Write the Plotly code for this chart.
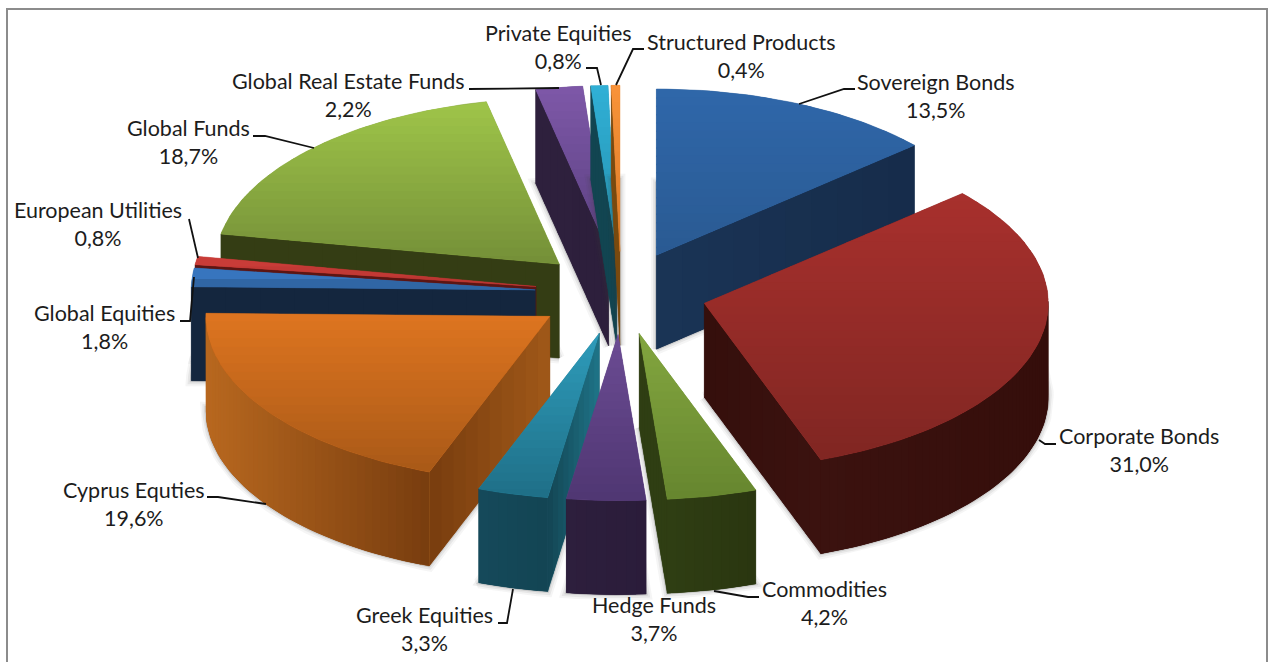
import math
import plotly.graph_objects as go

# ---- data (clockwise from 12 o'clock) ----
categories = ["Sovereign Bonds", "Corporate Bonds", "Commodities", "Hedge Funds", "Greek Equities",
              "Cyprus Equties", "Global Equities", "European Utilities", "Global Funds",
              "Global Real Estate Funds", "Private Equities", "Structured Products"]
values = [13.5, 31.0, 4.2, 3.7, 3.3, 19.6, 1.8, 0.8, 18.7, 2.2, 0.8, 0.4]

# ---- styles, in category order ----
top_light = ["#2f67aa", "#a8302d", "#83a63f", "#6c4c94", "#2e9cbb", "#de7520", "#3b7dcb", "#cc3d39", "#9fc549", "#7e58a8", "#30b0d6", "#f99339"]
top_dark = ["#2a5a92", "#802622", "#66862f", "#4f3672", "#1f6f87", "#a95917", "#2c5e98", "#b83531", "#748f38", "#5a4080", "#2590ad", "#d97a28"]
rim_left = ["#1b3759", "#3b120f", "#2f3e13", "#2d1f3d", "#15495b", "#b8681f", "#14263e", "#5c1513", "#343d14", "#2e203d", "#124551", "#7a4a10"]
rim_right = ["#162c4a", "#350e0b", "#2a3610", "#2b1c3a", "#134553", "#783d0f", "#14263e", "#5c1513", "#343d14", "#2e203d", "#124551", "#7a4a10"]
radial = ["#1a3456", "#350f0c", "#2f3e13", "#2d1f3d", "#1f7488", "#a05818", "#14263e", "#5c1513", "#343d14", "#2d1f3c", "#124551", "#7a4a10"]
draw_order = ["Sovereign Bonds", "Global Real Estate Funds", "Private Equities", "Structured Products",
              "Global Funds", "European Utilities", "Global Equities", "Corporate Bonds", "Cyprus Equties",
              "Commodities", "Greek Equities", "Hedge Funds"]

label_names_y = [82, 436, 589, 605, 615, 490, 313, 210, 128, 81, 33, 42]
label_x = [936, 1139, 824, 654, 424, 134, 104, 98, 188, 348, 558, 741]
leaders = [
    [(855, 89), (844, 89), (799, 104)], [(1056, 444), (1045, 444), (1039, 440)],
    [(759, 597), (748, 597), (714, 591)], [],
    [(498, 623), (507, 623), (513, 589)], [(207, 497), (218, 497), (266, 504)],
    [(180, 321), (190, 321), (194, 277)], [(189, 219), (198, 258)],
    [(253, 136), (265, 136), (314, 148)], [(469, 89), (559, 88)],
    [(586, 68), (597, 68), (601, 85)], [(644, 49), (633, 49), (616, 85)],
]

# ---- projection of the pie ----
CX, CY, RADIUS, TILT, EXPLODE, DEPTH = 621, 293, 344, 0.483, 86, 94


def hex2rgb(c):
    return tuple(int(c[i:i + 2], 16) for i in (1, 3, 5))


def mix(a, b, t):
    t = max(0.0, min(1.0, t))
    return "#%02x%02x%02x" % tuple(round(x + (y - x) * t) for x, y in zip(hex2rgb(a), hex2rgb(b)))


def clip_band(poly, y0, y1):
    def clip(pts, inside, y):
        out = []
        for i, p in enumerate(pts):
            q = pts[(i + 1) % len(pts)]
            if inside(p):
                out.append(p)
            if inside(p) != inside(q):
                t = (y - p[1]) / (q[1] - p[1])
                out.append((p[0] + (q[0] - p[0]) * t, y))
        return out
    res = clip(poly, lambda p: p[1] >= y0, y0)
    if res:
        res = clip(res, lambda p: p[1] <= y1, y1)
    return res


fig = go.Figure()


def closed(poly):
    return [p[0] for p in poly] + [poly[0][0]], [p[1] for p in poly] + [poly[0][1]]


def fill(poly, color, width=0.0):
    xs, ys = closed(poly)
    fig.add_trace(go.Scatter(x=xs, y=ys, mode="lines", fill="toself", fillcolor=color,
                             line=dict(color=color, width=width), hoverinfo="skip", showlegend=False))


def outline(poly, color, width):
    xs, ys = closed(poly)
    fig.add_trace(go.Scatter(x=xs, y=ys, mode="lines", line=dict(color=color, width=width),
                             hoverinfo="skip", showlegend=False))


total = sum(values)
starts = [sum(values[:i]) / total * 360 for i in range(len(values))]


def draw_slice(i):
    a0 = starts[i]
    a1 = a0 + values[i] / total * 360
    mid = math.radians((a0 + a1) / 2)
    ax = CX + EXPLODE * math.sin(mid)
    ay = CY - EXPLODE * math.cos(mid) * TILT
    steps = max(3, int((a1 - a0) / 1.5))
    rim = []
    for k in range(steps + 1):
        a = math.radians(a0 + (a1 - a0) * k / steps)
        rim.append((ax + RADIUS * math.sin(a), ay - RADIUS * math.cos(a) * TILT))
    top = [(ax, ay)] + rim
    bottom = [(x, y + DEPTH) for x, y in top]

    # soft shadow around the floor outline
    for w, alpha in ((11, 0.05), (7, 0.08), (3, 0.14)):
        outline(bottom, "rgba(60,60,60,%.2f)" % alpha, w)

    xmin = min(p[0] for p in rim)
    xmax = max(p[0] for p in rim)
    span = max(xmax - xmin, 1)

    def rim_col(x):
        return mix(rim_left[i], rim_right[i], (x - xmin) / span)

    # radial walls facing the viewer: the start edge left of the apex, the end edge right of it
    fronts = []
    if rim[0][0] < ax - 0.01:
        fronts.append(rim[0])
    if rim[-1][0] > ax + 0.01:
        fronts.append(rim[-1])
    for corner in fronts:
        base = [corner, (ax, ay), (ax, ay + DEPTH), (corner[0], corner[1] + DEPTH)]
        fill(base, mix(rim_col(corner[0]), radial[i], 0.5), 0.5)
        n = 10
        for k in range(n):
            t0, t1 = k / n, min(1, (k + 1.3) / n)
            p = (corner[0] + (ax - corner[0]) * t0, corner[1] + (ay - corner[1]) * t0)
            q = (corner[0] + (ax - corner[0]) * t1, corner[1] + (ay - corner[1]) * t1)
            fill([p, q, (q[0], q[1] + DEPTH), (p[0], p[1] + DEPTH)],
                 mix(rim_col(corner[0]), radial[i], (k + 0.5) / n))

    # rim wall: only the part that faces the viewer (x decreasing along the clockwise rim)
    front_rim = [k for k in range(steps) if rim[k + 1][0] < rim[k][0]]
    if front_rim:
        seg = rim[front_rim[0]:front_rim[-1] + 2]
        fill(seg + [(x, y + DEPTH) for x, y in reversed(seg)],
             mix(rim_left[i], rim_right[i], 0.5), 0.5)
        for k in range(len(seg) - 1):
            part = seg[k:k + 3]
            fill(part + [(x, y + DEPTH) for x, y in reversed(part)],
                 rim_col((part[0][0] + part[1][0]) / 2))

    # top, as horizontal colour bands over a base shape
    fill(top, mix(top_light[i], top_dark[i], 0.5), 0.5)
    ys = [p[1] for p in top]
    y0, y1 = min(ys), max(ys)
    bands = max(2, int((y1 - y0) / 8))
    for b in range(bands):
        ya = y0 + (y1 - y0) * b / bands
        yb = y0 + (y1 - y0) * (b + 1) / bands + 1.5
        band = clip_band(top, ya, yb)
        if len(band) >= 3:
            fill(band, mix(top_light[i], top_dark[i], (b + 0.5) / bands))


for name in draw_order:
    draw_slice(categories.index(name))

# leader lines
lx, ly = [], []
for seg in leaders:
    if seg:
        lx += [p[0] for p in seg] + [None]
        ly += [p[1] for p in seg] + [None]
fig.add_trace(go.Scatter(x=lx, y=ly, mode="lines", line=dict(color="#111111", width=1.8),
                         hoverinfo="skip", showlegend=False))

# labels
annotations = []
for name, v, x, y in zip(categories, values, label_x, label_names_y):
    annotations.append(dict(x=x, y=y + 13.5, xref="x", yref="y", showarrow=False, align="center",
                            xanchor="center", yanchor="middle",
                            text=f"{name}<br>" + f"{v:.1f}%".replace(".", ","),
                            font=dict(family="Lato", size=21.5, color="#1c1c1c")))

fig.update_layout(
    width=1269, height=662, margin=dict(l=0, r=0, t=0, b=0),
    paper_bgcolor="white", plot_bgcolor="white", showlegend=False,
    xaxis=dict(range=[0, 1269], visible=False, fixedrange=True),
    yaxis=dict(range=[662, 0], visible=False, fixedrange=True),
    annotations=annotations,
    shapes=[dict(type="rect", xref="x", yref="y", x0=7, y0=9, x1=1267, y1=680,
                 line=dict(color="#8c8c8c", width=2), layer="below")],
)
fig.write_html("out.html", config={"displayModeBar": False},
               post_script="document.body.style.margin='0';document.documentElement.style.overflow='hidden';")
